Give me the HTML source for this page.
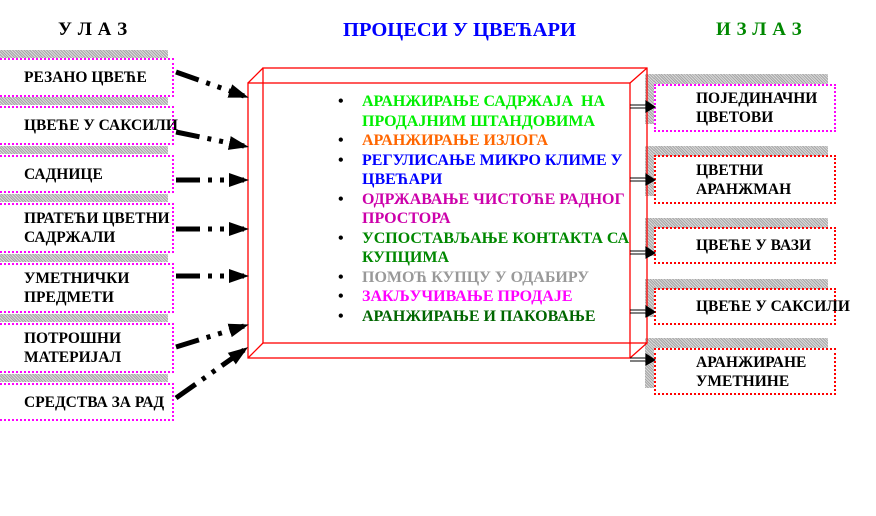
<!DOCTYPE html>
<html><head><meta charset="utf-8"><style>
body{margin:0;width:876px;height:516px;background:#fff;position:relative;overflow:hidden;font-family:"Liberation Serif",serif;font-weight:bold}
.t{position:absolute;white-space:nowrap}
.h{font-size:19px;top:19px}
.g{position:absolute;background:repeating-linear-gradient(45deg,#a8a8a8 0 1px,#d8d8d8 1px 2px)}
.lb{position:absolute;left:0;width:174px;border:2px dotted #f0f;border-left:none;box-sizing:border-box;font-size:15.5px;padding-left:24px;display:flex;align-items:center;line-height:19px;white-space:nowrap}
.rb{position:absolute;left:654px;width:182px;border:2px dotted #f00;box-sizing:border-box;font-size:15.5px;padding-left:40px;display:flex;align-items:center;line-height:19px;white-space:nowrap}
ul{position:absolute;left:342px;top:92px;margin:0;padding:0;list-style:none;font-size:16px;line-height:19.5px;white-space:nowrap}
li{position:relative;padding-left:20px}
li:before{content:"•";position:absolute;left:-4px;color:#000;font-size:16px}
</style></head><body>
<div class="t h" style="left:58px;letter-spacing:0.5px">У Л А З</div>
<div class="t h" style="left:343px;color:#00f;font-size:20.5px">ПРОЦЕСИ У ЦВЕЋАРИ</div>
<div class="t h" style="left:716px;color:#080;letter-spacing:0.5px">И З Л А З</div>

<div class="g" style="left:0;top:50px;width:168px;height:8px"></div>
<div class="lb" style="top:58px;height:39px">РЕЗАНО ЦВЕЋЕ</div>
<div class="g" style="left:0;top:97px;width:168px;height:8px"></div>
<div class="lb" style="top:106px;height:39px">ЦВЕЋЕ У САКСИЛИ</div>
<div class="g" style="left:0;top:146px;width:168px;height:8px"></div>
<div class="lb" style="top:155px;height:38px">САДНИЦЕ</div>
<div class="g" style="left:0;top:194px;width:168px;height:8px"></div>
<div class="lb" style="top:203px;height:50px">ПРАТЕЋИ ЦВЕТНИ<br>САДРЖАЛИ</div>
<div class="g" style="left:0;top:254px;width:168px;height:8px"></div>
<div class="lb" style="top:263px;height:50px">УМЕТНИЧКИ<br>ПРЕДМЕТИ</div>
<div class="g" style="left:0;top:314px;width:168px;height:8px"></div>
<div class="lb" style="top:323px;height:50px">ПОТРОШНИ<br>МАТЕРИЈАЛ</div>
<div class="g" style="left:0;top:374px;width:168px;height:8px"></div>
<div class="lb" style="top:383px;height:38px">СРЕДСТВА ЗА РАД</div>

<div class="g" style="left:645px;top:74px;width:183px;height:10px"></div>
<div class="g" style="left:645px;top:74px;width:9px;height:50px"></div>
<div class="rb" style="top:84px;height:48px;border-color:#f0f">ПОЈЕДИНАЧНИ<br>ЦВЕТОВИ</div>
<div class="g" style="left:645px;top:146px;width:183px;height:10px"></div>
<div class="g" style="left:645px;top:146px;width:9px;height:50px"></div>
<div class="rb" style="top:155px;height:49px">ЦВЕТНИ<br>АРАНЖМАН</div>
<div class="g" style="left:645px;top:218px;width:183px;height:10px"></div>
<div class="g" style="left:645px;top:218px;width:9px;height:38px"></div>
<div class="rb" style="top:227px;height:37px">ЦВЕЋЕ У ВАЗИ</div>
<div class="g" style="left:645px;top:279px;width:183px;height:10px"></div>
<div class="g" style="left:645px;top:279px;width:9px;height:38px"></div>
<div class="rb" style="top:288px;height:37px">ЦВЕЋЕ У САКСИЛИ</div>
<div class="g" style="left:645px;top:338px;width:183px;height:10px"></div>
<div class="g" style="left:645px;top:338px;width:9px;height:50px"></div>
<div class="rb" style="top:348px;height:47px">АРАНЖИРАНЕ<br>УМЕТНИНЕ</div>

<svg width="876" height="516" style="position:absolute;left:0;top:0">
<g stroke="#f00" stroke-width="1.3" fill="none">
<rect x="248" y="83" width="382" height="275"/>
<rect x="263" y="68" width="384" height="275"/>
<line x1="248" y1="83" x2="263" y2="68"/><line x1="630" y1="83" x2="647" y2="68"/>
<line x1="248" y1="358" x2="263" y2="343"/><line x1="630" y1="358" x2="647" y2="343"/>
</g>
<defs><marker id="a" markerWidth="4" markerHeight="4" refX="3" refY="2" orient="auto"><path d="M0,0.6 L4,2 L0,3.4z" fill="#000"/></marker></defs>
<g stroke="#000" stroke-width="5" fill="none" stroke-dasharray="24 8 4 8 4 8 30" marker-end="url(#a)">
<line x1="176" y1="72" x2="244" y2="96"/>
<line x1="176" y1="132" x2="244" y2="146"/>
<line x1="176" y1="180" x2="244" y2="180"/>
<line x1="176" y1="229" x2="244" y2="229"/>
<line x1="176" y1="276" x2="244" y2="276"/>
<line x1="176" y1="347" x2="244" y2="326"/>
<line x1="176" y1="398" x2="244" y2="350"/>
</g>
<g stroke="#000" stroke-width="1">
<line x1="630" y1="105" x2="648" y2="105"/><line x1="630" y1="108" x2="648" y2="108"/><path d="M646,101 L655,107 L646,112z" fill="#000"/>
<line x1="630" y1="178" x2="648" y2="178"/><line x1="630" y1="181" x2="648" y2="181"/><path d="M646,174 L655,180 L646,185z" fill="#000"/>
<line x1="630" y1="251" x2="648" y2="251"/><line x1="630" y1="254" x2="648" y2="254"/><path d="M646,247 L655,253 L646,258z" fill="#000"/>
<line x1="630" y1="310" x2="648" y2="310"/><line x1="630" y1="313" x2="648" y2="313"/><path d="M646,306 L655,312 L646,317z" fill="#000"/>
<line x1="630" y1="358" x2="648" y2="358"/><line x1="630" y1="361" x2="648" y2="361"/><path d="M646,354 L655,360 L646,365z" fill="#000"/>
</g>
</svg>

<ul>
<li style="color:#0e0">АРАНЖИРАЊЕ САДРЖАЈА&nbsp; НА<br>ПРОДАЈНИМ ШТАНДОВИМА</li>
<li style="color:#f60">АРАНЖИРАЊЕ ИЗЛОГА</li>
<li style="color:#00f">РЕГУЛИСАЊЕ МИКРО КЛИМЕ У<br>ЦВЕЋАРИ</li>
<li style="color:#c0a">ОДРЖАВАЊЕ ЧИСТОЋЕ РАДНОГ<br>ПРОСТОРА</li>
<li style="color:#080">УСПОСТАВЉАЊЕ КОНТАКТА СА<br>КУПЦИМА</li>
<li style="color:#999">ПОМОЋ КУПЦУ У ОДАБИРУ</li>
<li style="color:#f0f">ЗАКЉУЧИВАЊЕ ПРОДАЈЕ</li>
<li style="color:#060">АРАНЖИРАЊЕ И ПАКОВАЊЕ</li>
</ul>
</body></html>
